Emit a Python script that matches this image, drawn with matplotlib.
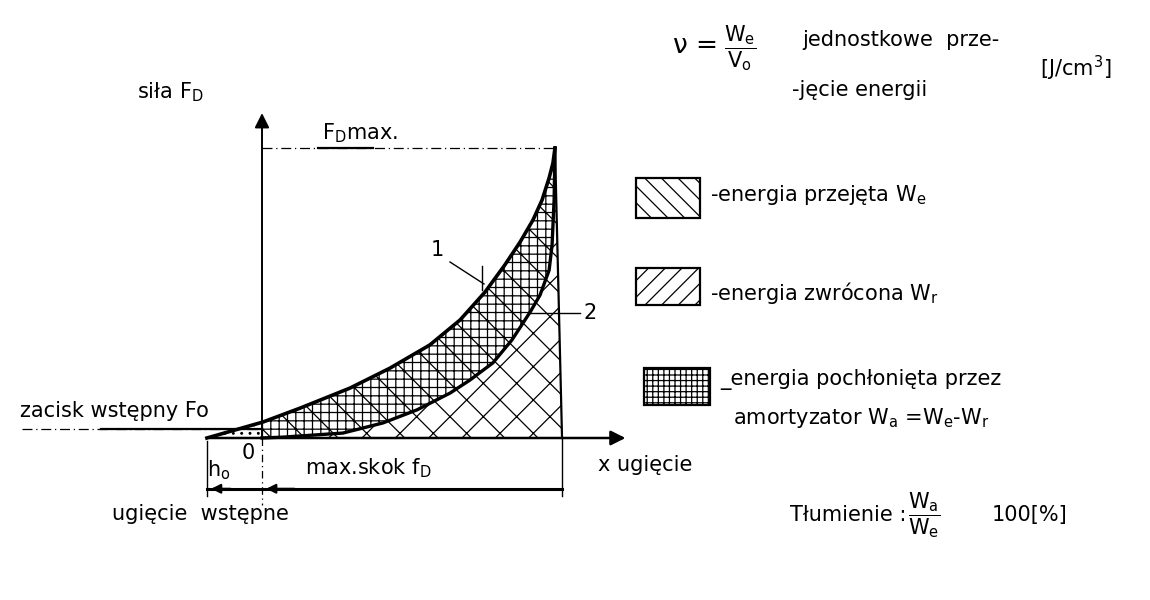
import numpy as np
import matplotlib
matplotlib.use("Agg")
import matplotlib.pyplot as plt
from matplotlib.patches import Rectangle

plt.rcParams['font.family'] = ['DejaVu Sans']
plt.rcParams['mathtext.fontset'] = 'dejavusans'
plt.rcParams['mathtext.default'] = 'regular'
plt.rcParams['hatch.linewidth'] = 0.9

# characteristic of the shock absorber (x = deflection, F = force), percent of max
h0 = -18.8          # initial deflection
f_max = 100.0       # max stroke f_D
f_edge = 102.4      # bottom of the closing edge
F_max = 100.0       # F_D max
F0 = 5.5            # initial clamp force Fo

# curve 1 - loading
load_x = [-18.8, 0.3, 13.0, 30.0, 43.7, 57.3, 67.6, 76.1, 82.9, 88.1, 92.5, 95.6, 98.0, 99.3, 100]
load_F = [0, 5.5, 10.3, 17.2, 24.1, 32.1, 40.7, 50.3, 59.7, 67.6, 75.2, 82.1, 89.7, 94.8, 100]
# curve 2 - unloading
unload_x = [0, 7.2, 27.6, 41.3, 52.9, 64.2, 71.0, 78.8, 85.3, 91.5, 94.9, 98.0, 99.0, 99.7, 100]
unload_F = [0, 0.3, 1.7, 5.2, 9.7, 15.5, 20.0, 25.9, 33.8, 43.4, 49.3, 57.9, 66.6, 82.1, 100]

W, H = 1150, 600
fig = plt.figure(figsize=(11.5, 6), dpi=100)
ax = fig.add_axes([0, 0, 1, 1])
sx, sy = 2.93, 2.9     # pixels per unit
ox, oy = 262, 438      # origin in pixels
ax.set_xlim(-ox / sx, (W - ox) / sx)
ax.set_ylim(-(H - oy) / sy, oy / sy)
ax.axis('off')

def fx(px):
    return px / W

def fy(py):
    return 1 - py / H

def dx(px):
    return (px - ox) / sx

def dy(py):
    return (oy - py) / sy

lx = np.array(load_x)
lF = np.array(load_F)
ux = np.array(unload_x)
uF = np.array(unload_F)
pos = lx >= 0

# hatched areas
ax.fill(np.r_[ux, f_edge], np.r_[uF, 0], facecolor='none', edgecolor='black', hatch='x', lw=0)
ax.fill(np.r_[0, lx[pos], ux[::-1]], np.r_[0, lF[pos], uF[::-1]], facecolor='none',
        edgecolor='black', hatch='++\\', lw=0)
ax.fill(np.r_[lx[~pos], 0, 0], np.r_[lF[~pos], F0, 0], facecolor='none',
        edgecolor='black', hatch='..', lw=0)

# curves
ax.plot(load_x, load_F, color='black', lw=2.6, solid_joinstyle='round')
ax.plot(unload_x, unload_F, color='black', lw=2.4, solid_joinstyle='round')
ax.plot([f_max, f_edge], [F_max, 0], color='black', lw=1.6)

# axes with arrows
ax.annotate('', xy=(125, 0), xytext=(h0, 0),
            arrowprops=dict(arrowstyle='-|>', color='black', lw=1.8, mutation_scale=22))
ax.annotate('', xy=(0, 113), xytext=(0, -1),
            arrowprops=dict(arrowstyle='-|>', color='black', lw=1.4, mutation_scale=22))

# F_D max reference line
ax.plot([0, f_max], [F_max, F_max], color='black', lw=0.9, ls=(0, (8, 3, 1, 3)))
ax.plot([19, 38], [F_max, F_max], color='black', lw=1.6)
# Fo underline
ax.plot([-82, 0], [F0 - 2.5, F0 - 2.5], color='black', lw=0.9, ls=(0, (8, 3, 1, 3)))
ax.plot([-55, 0], [F0 - 2.5, F0 - 2.5], color='black', lw=1.6)

# dimension lines under the axis
yd = -17.5
ax.plot([h0, f_edge], [yd, yd], color='black', lw=2.2)
ax.plot([h0, h0], [-1, -20], color='black', lw=1.0)
ax.plot([f_edge, f_edge], [0, -20], color='black', lw=1.0)
ax.plot([0, 0], [0, -23], color='black', lw=0.9, ls=(0, (6, 3, 1, 3)))
ax.annotate('', xy=(0.5, yd), xytext=(12, yd),
            arrowprops=dict(arrowstyle='-|>', color='black', lw=1.5, mutation_scale=14))
ax.annotate('', xy=(h0 + 0.5, yd), xytext=(h0 + 9, yd),
            arrowprops=dict(arrowstyle='-|>', color='black', lw=1.5, mutation_scale=14))

# leader lines 1 and 2
ax.plot([dx(450), dx(484)], [dy(262), dy(284)], color='black', lw=1.0)
ax.plot([dx(482), dx(482)], [dy(266), dy(290)], color='black', lw=1.0)
ax.plot([dx(528), dx(580)], [dy(313), dy(313)], color='black', lw=1.0)

fs = 15
def txt(px, py, s, size=fs, **kw):
    fig.text(fx(px), fy(py), s, fontsize=size, va='center', ha=kw.pop('ha', 'left'), **kw)

txt(137, 92, 'siła F$_{D}$')
txt(322, 133, 'F$_{D}$max.')
txt(437, 250, '1', ha='center')
txt(590, 313, '2', ha='center')
txt(20, 411, 'zacisk wstępny Fo')
txt(248, 453, '0', ha='center')
txt(207, 470, 'h$_{o}$')
txt(305, 468, 'max.skok f$_{D}$')
txt(598, 465, 'x ugięcie')
txt(112, 514, 'ugięcie  wstępne')

# top-right formula
txt(672, 46, r'$\nu$ =', size=19)
txt(724, 48, r'$\dfrac{W_e}{V_o}$', size=15)
txt(802, 40, 'jednostkowe  prze-')
txt(792, 90, '-jęcie energii')
txt(1040, 68, '[J/cm$^3$]')

# legend boxes
boxes = [((636, 178, 64, 40), '\\\\', '-energia przejęta W$_e$', 195),
         ((636, 268, 64, 37), '//', '-energia zwrócona W$_r$', 293),
         ((644, 368, 66, 37), '+++', '_energia pochłonięta przez', 380)]
for (bx, by, bw, bh), hatch, label, ty in boxes:
    fig.add_artist(Rectangle((fx(bx), fy(by + bh)), bw / W, bh / H, transform=fig.transFigure,
                             fill=False, edgecolor='black', lw=1.6, hatch=hatch))
    txt(bx + bw + 10, ty, label)
txt(733, 418, 'amortyzator W$_a$ =W$_e$-W$_r$')

txt(790, 515, 'Tłumienie :')
txt(908, 515, r'$\dfrac{W_a}{W_e}$', size=15)
txt(992, 515, '100[%]')

fig.savefig('out.png', dpi=100, facecolor='white')
